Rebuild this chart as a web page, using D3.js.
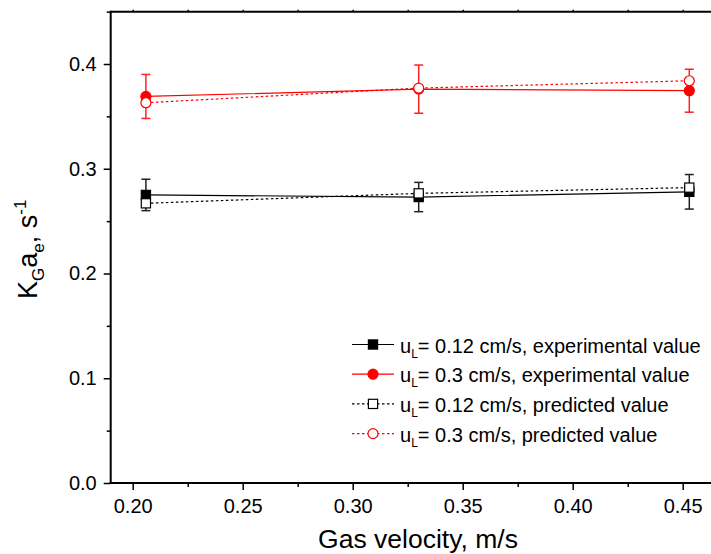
<!DOCTYPE html>
<html><head><meta charset="utf-8">
<script src="https://cdn.jsdelivr.net/npm/d3@7/dist/d3.min.js"></script>
<style>body{margin:0;background:#fff;}svg{display:block;font-family:Arial,"Liberation Sans",sans-serif;}</style>
</head><body>
<svg id="c" width="711" height="554"></svg>
<script>
const gasVelocity = [0.206, 0.330, 0.453];
const exp012 = [0.275, 0.273, 0.278];
const err012 = [0.015, 0.014, 0.0165];
const exp03 = [0.369, 0.376, 0.3745];
const err03 = [0.021, 0.023, 0.0205];
const pred012 = [0.267, 0.2765, 0.282];
const pred03 = [0.363, 0.377, 0.384];
const xTicks = [0.20, 0.25, 0.30, 0.35, 0.40, 0.45];
const yTicks = [0.0, 0.1, 0.2, 0.3, 0.4];
const legendLabels = ["= 0.12 cm/s, experimental value", "= 0.3 cm/s, experimental value", "= 0.12 cm/s, predicted value", "= 0.3 cm/s, predicted value"];

const svg = d3.select("#c");
const L = 110.7, B = 483;
const x = d3.scaleLinear().domain([0.19, 0.47]).range([L, L + 0.28 * 2200]);
const y = d3.scaleLinear().domain([0, 0.45]).range([B, B - 0.45 * 1047.5]);
const R = x(0.47), T = y(0.45);

// axes
const gx = svg.append("g").attr("transform", `translate(0,${B})`)
  .call(d3.axisBottom(x).tickValues(xTicks).tickFormat(d3.format(".2f")).tickSize(7).tickPadding(9));
const gxm = svg.append("g").attr("transform", `translate(0,${B})`)
  .call(d3.axisBottom(x).tickValues(d3.range(0.225, 0.46, 0.05)).tickFormat("").tickSize(4));
const gy = svg.append("g").attr("transform", `translate(${L},0)`)
  .call(d3.axisLeft(y).tickValues(yTicks).tickFormat(d3.format(".1f")).tickSize(7).tickPadding(7));
const gym = svg.append("g").attr("transform", `translate(${L},0)`)
  .call(d3.axisLeft(y).tickValues([0.05, 0.15, 0.25, 0.35, 0.45]).tickFormat("").tickSize(4));
const gt = svg.append("g").attr("transform", `translate(0,${T})`)
  .call(d3.axisTop(x).tickValues(d3.range(0.20, 0.46, 0.025)).tickFormat("").tickSize(2));
[gx, gxm, gy, gym, gt].forEach(g => {
  g.select(".domain").attr("stroke", "#000").attr("stroke-width", 2);
  g.selectAll(".tick line").attr("stroke", "#000").attr("stroke-width", 1.5);
  g.selectAll(".tick text").attr("fill", "#000").style("font-size", "20px").style("font-family", "Arial, 'Liberation Sans', sans-serif");
});
gx.selectAll(".domain").attr("d", `M${L - 1},0H${R}`);
gy.selectAll(".domain").attr("d", `M0,${B}V${T - 1}`);
gt.selectAll(".domain").attr("d", `M${L},0H${R}`);
gxm.select(".domain").remove(); gym.select(".domain").remove();

// titles
svg.append("text").attr("x", 418).attr("y", 548).attr("text-anchor", "middle")
  .style("font-size", "26.5px").text("Gas velocity, m/s");
const yt = svg.append("text").attr("transform", `translate(37,${(T + B) / 2 + 2}) rotate(-90)`)
  .attr("text-anchor", "middle").style("font-size", "27px");
yt.append("tspan").text("K");
yt.append("tspan").attr("dy", 7).style("font-size", "17px").text("G");
yt.append("tspan").attr("dy", -7).text("a");
yt.append("tspan").attr("dy", 7).style("font-size", "17px").text("e");
yt.append("tspan").attr("dy", -7).text(", s");
yt.append("tspan").attr("dy", -11).style("font-size", "17px").text("-1");

const series = [
  {vals: exp012, color: "#000", dash: null, shape: "square", fill: "#000"},
  {vals: exp03, color: "#f00", dash: null, shape: "circle", fill: "#f00"},
  {vals: pred012, color: "#000", dash: "2.5,2.5", shape: "square", fill: "#fff"},
  {vals: pred03, color: "#f00", dash: "2.5,2.5", shape: "circle", fill: "#fff"}
];
const errs = [
  {vals: exp012, err: err012, color: "#222"},
  {vals: exp03, err: err03, color: "#f22"}
];
const line = d3.line().x((d, i) => x(gasVelocity[i])).y(d => y(d));

function marker(g, shape, cx, cy, color, fill) {
  if (shape === "square") {
    g.append("rect").attr("x", cx - 4.6).attr("y", cy - 4.6).attr("width", 9.2).attr("height", 9.2)
      .attr("fill", fill).attr("stroke", color).attr("stroke-width", 1.2);
  } else {
    g.append("circle").attr("cx", cx).attr("cy", cy).attr("r", 5)
      .attr("fill", fill).attr("stroke", color).attr("stroke-width", 1.2);
  }
}

series.forEach(s => {
  svg.append("path").attr("d", line(s.vals)).attr("fill", "none").attr("stroke", s.color)
    .attr("stroke-width", 1.2).attr("stroke-dasharray", s.dash);
});
errs.forEach(e => {
  const g = svg.append("g").attr("stroke", e.color).attr("stroke-width", 1.5);
  e.vals.forEach((v, i) => {
    const cx = x(gasVelocity[i]);
    g.append("line").attr("x1", cx).attr("x2", cx).attr("y1", y(v + e.err[i])).attr("y2", y(v - e.err[i]));
    [v + e.err[i], v - e.err[i]].forEach(w => {
      g.append("line").attr("x1", cx - 4.5).attr("x2", cx + 4.5).attr("y1", y(w)).attr("y2", y(w));
    });
  });
});
series.forEach(s => {
  const g = svg.append("g");
  s.vals.forEach((v, i) => marker(g, s.shape, x(gasVelocity[i]), y(v), s.color, s.fill));
});

// legend
const lg = svg.append("g");
series.forEach((s, i) => {
  const yy = 344.5 + i * 29.7;
  lg.append("line").attr("x1", 352).attr("x2", 394).attr("y1", yy).attr("y2", yy)
    .attr("stroke", s.color).attr("stroke-width", 1.2).attr("stroke-dasharray", s.dash);
  marker(lg, s.shape, 373, yy, s.color, s.fill);
  const t = lg.append("text").attr("x", 400).attr("y", yy + 8).style("font-size", "20px");
  t.append("tspan").text("u");
  t.append("tspan").attr("dy", 5).style("font-size", "12px").text("L");
  t.append("tspan").attr("dy", -5).text(legendLabels[i]);
});
</script>
</body></html>
